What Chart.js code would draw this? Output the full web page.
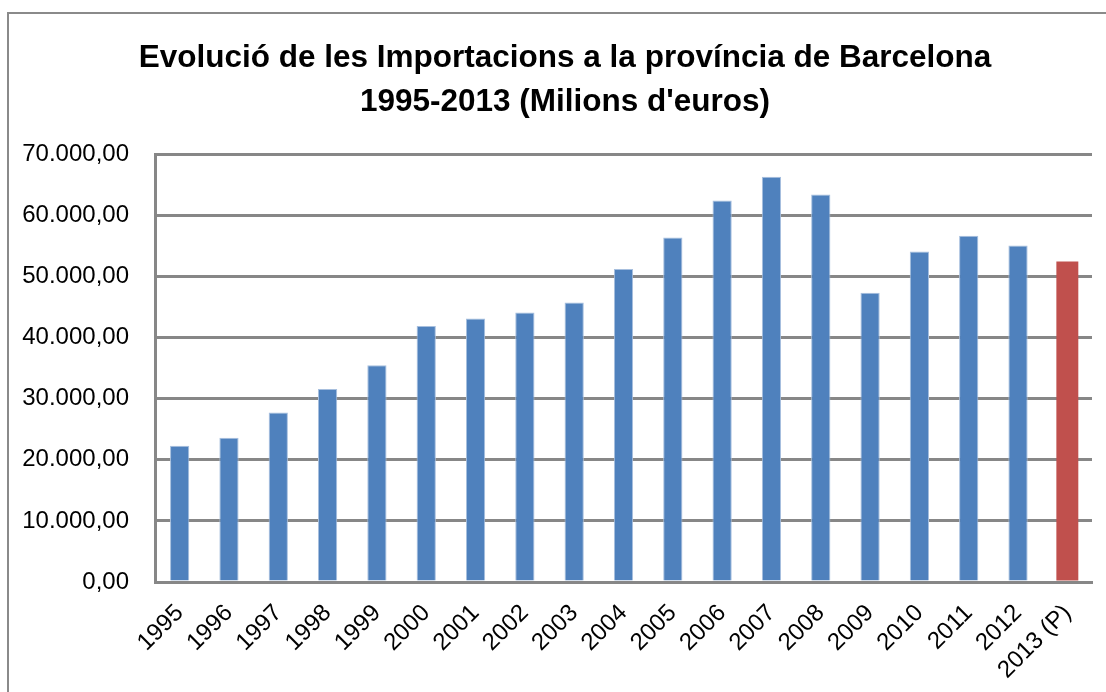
<!DOCTYPE html>
<html>
<head>
<meta charset="utf-8">
<script src="https://cdn.jsdelivr.net/npm/chart.js@4.4.1/dist/chart.umd.min.js"></script>
<style>
  html, body { margin: 0; padding: 0; background: #ffffff; overflow: hidden; }
  #wrap { position: relative; width: 1106px; height: 692px; overflow: hidden; }
  #frame { position: absolute; left: 7px; top: 12px; width: 1200px; height: 800px;
           border-left: 2px solid #8a8a8a; border-top: 2px solid #8a8a8a; }
  canvas { position: absolute; left: 0; top: 0; }
</style>
</head>
<body>
<div id="wrap">
  <div id="frame"></div>
  <canvas id="c" width="1130" height="692"></canvas>
</div>
<script>
const categories = ["1995","1996","1997","1998","1999","2000","2001","2002","2003","2004","2005","2006","2007","2008","2009","2010","2011","2012","2013 (P)"];
const importsDefinitive = [22300, 23600, 27750, 31600, 35450, 41870, 43130, 44100, 45750, 51200, 56370, 62420, 66300, 63400, 47320, 54080, 56650, 55060, null];
const importsProvisional = [null, null, null, null, null, null, null, null, null, null, null, null, null, null, null, null, null, null, 52450];
const titleLines = ["Evolució de les Importacions a la província de Barcelona", "1995-2013 (Milions d'euros)"];
const yTicks = [0, 10000, 20000, 30000, 40000, 50000, 60000, 70000];

function fmt(v) {
  const s = Math.round(v).toString().replace(/\B(?=(\d{3})+(?!\d))/g, ".");
  return s + ",00";
}

const GRID = "#878787";
const tickFont = { family: "'Liberation Sans', Arial, sans-serif", size: 24 };

// let the y-axis labels use the space to the left of the axis box (no clipping)
const widenYLabelArea = {
  id: "widenYLabelArea",
  afterLayout(chart) { chart.scales.y.left = 0; }
};

new Chart(document.getElementById("c"), {
  type: "bar",
  data: {
    labels: categories,
    datasets: [
      { data: importsDefinitive, backgroundColor: "#4F81BD", borderColor: "#A7BFDE", borderWidth: 1,
        borderSkipped: "bottom", barPercentage: 0.39, categoryPercentage: 1, grouped: false },
      { data: importsProvisional, backgroundColor: "#C0504D", borderColor: "#C0504D", borderWidth: 0,
        barPercentage: 0.445, categoryPercentage: 1, grouped: false }
    ]
  },
  plugins: [widenYLabelArea],
  options: {
    responsive: false,
    animation: false,
    devicePixelRatio: 1,
    layout: { padding: { left: 38, right: 38, top: 0, bottom: 0 } },
    plugins: {
      legend: { display: false },
      tooltip: { enabled: false },
      title: {
        display: true,
        text: titleLines,
        color: "#000000",
        font: { family: "'Liberation Sans', Arial, sans-serif", size: 31.5, weight: "bold", lineHeight: 1.4 },
        padding: { top: 36, bottom: 30 }
      }
    },
    scales: {
      x: {
        grid: { display: false, drawTicks: false },
        border: { display: true, color: GRID, width: 3 },
        ticks: { color: "#000000", font: tickFont, minRotation: 45, maxRotation: 45, padding: 17, autoSkip: false },
        afterFit: (s) => { s.height = 110; }
      },
      y: {
        min: 0, max: 70000,
        afterBuildTicks: (s) => { s.ticks = yTicks.map(v => ({ value: v })); },
        grid: { color: GRID, lineWidth: 3, drawTicks: false },
        border: { display: true, color: GRID, width: 3 },
        ticks: { color: "#000000", font: tickFont, padding: 26, callback: (v) => fmt(v) },
        afterFit: (s) => { s.width = 117; }
      }
    }
  }
});
</script>
</body>
</html>
